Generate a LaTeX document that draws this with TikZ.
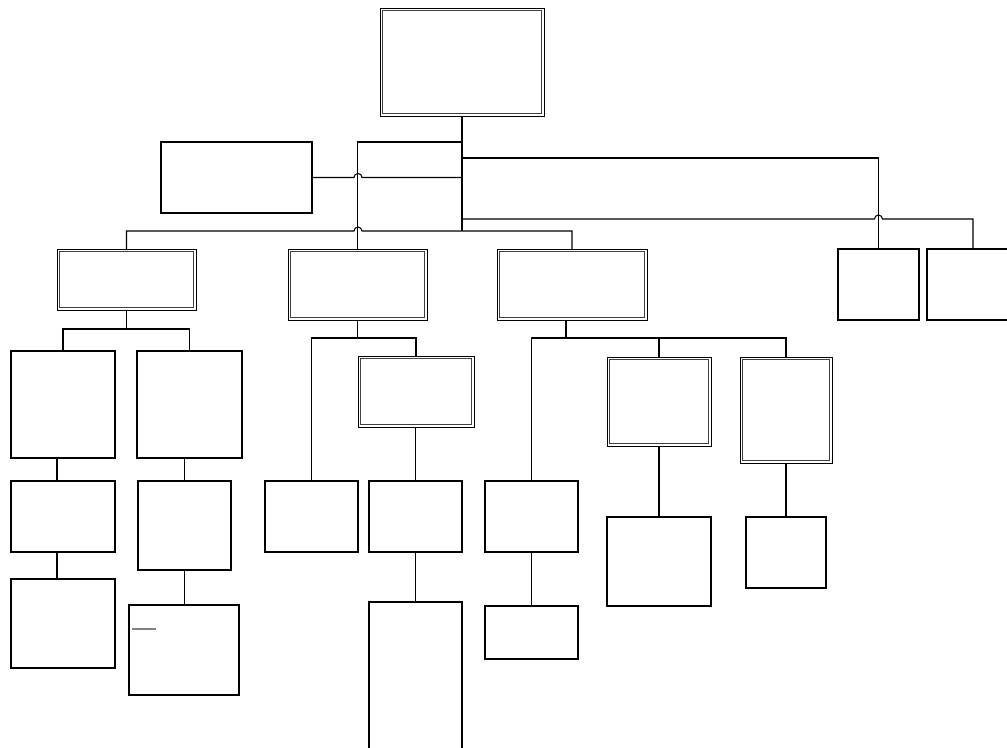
\documentclass[tikz,border=0pt]{standalone}
\usepackage{tikz}
\usetikzlibrary{positioning}
\tikzset{
  unit/.style   = {draw, fill=white, inner sep=0pt, outer sep=0pt, line width=0.6pt},
  dunit/.style  = {unit, line width=0.5pt},
  rim/.style    = {line width=0.7pt, draw=black!75},
  link/.style   = {line width=0.6pt},
  spine/.style  = {line width=0.9pt}
}
\begin{document}
\begin{tikzpicture}[x=0.02cm, y=-0.02cm]
  \clip (0,0) rectangle (1007,747);
  % head and staff
  \node[dunit, minimum width=3.28cm, minimum height=2.16cm] (chief)   at (462,62)      {};
  \node[unit,  minimum width=3.02cm, minimum height=1.42cm] (advisor) at (236.5,177.5) {};
  % second level
  \node[dunit, minimum width=2.78cm, minimum height=1.22cm] (divA) at (126.5,279.5) {};
  \node[dunit, minimum width=2.78cm, minimum height=1.42cm] (divB) at (357.5,284.5) {};
  \node[dunit, minimum width=3.00cm, minimum height=1.42cm] (divC) at (572,284.5)   {};
  \node[unit,  minimum width=1.62cm, minimum height=1.42cm] (divD) at (878.5,284.5) {};
  \node[unit,  minimum width=1.84cm, minimum height=1.42cm] (divE) at (973,284.5)   {};
  % under A
  \node[unit, minimum width=2.08cm, minimum height=2.14cm] (secA1)  at (63,404.5)    {};
  \node[unit, minimum width=2.10cm, minimum height=2.14cm] (secA2)  at (189.5,404.5) {};
  \node[unit, minimum width=2.08cm, minimum height=1.42cm] (secA1a) at (63,516.5)    {};
  \node[unit, minimum width=2.08cm, minimum height=1.78cm] (secA1b) at (63,623.5)    {};
  \node[unit, minimum width=1.86cm, minimum height=1.78cm] (secA2a) at (184.5,525.5) {};
  \node[unit, minimum width=2.20cm, minimum height=1.80cm] (secA2b) at (184,650)     {};
  % under B
  \node[unit,  minimum width=1.86cm, minimum height=1.42cm] (secB1)  at (311.5,516.5) {};
  \node[dunit, minimum width=2.32cm, minimum height=1.42cm] (secB2)  at (416,391.5)   {};
  \node[unit,  minimum width=1.86cm, minimum height=1.42cm] (secB2a) at (415.5,516.5) {};
  \node[unit,  minimum width=1.86cm, minimum height=3.20cm] (secB2b) at (415.5,682)   {};
  % under C
  \node[unit,  minimum width=1.86cm, minimum height=1.42cm] (secC1)  at (531.5,516.5) {};
  \node[unit,  minimum width=1.86cm, minimum height=1.06cm] (secC1a) at (531.5,632.5) {};
  \node[dunit, minimum width=2.08cm, minimum height=1.78cm] (secC2)  at (659,401.5)   {};
  \node[unit,  minimum width=2.08cm, minimum height=1.78cm] (secC2a) at (659,561.5)   {};
  \node[dunit, minimum width=1.84cm, minimum height=2.12cm] (secC3)  at (786,410)     {};
  \node[unit,  minimum width=1.60cm, minimum height=1.42cm] (secC3a) at (786,552.5)   {};
  \draw[gray, line width=0.8pt] (132,629) -- (156,629);

  % inner rim of the double boxes
  \foreach \n in {chief, divA, divB, divC, secB2, secC2, secC3}
    \draw[rim] ([shift={(2.5,-2.5)}]\n.south west) rectangle ([shift={(-2.5,2.5)}]\n.north east);

  % bus points
  \coordinate (busTop) at (462,231);
  \coordinate (busA)   at (126.5,329);
  \coordinate (busB)   at (357.5,338);
  \coordinate (busC)   at (566,338);
  \coordinate (colA1)  at (57,0);
  \coordinate (colA2)  at (184.5,0);

  % top level links
  \draw[spine] (chief.south) -- (busTop);
  \draw[link] (chief.south |- 0,142) -| (divB.north);
  \draw[link] (advisor.east) -- (354,177.5)
    arc[start angle=180, end angle=0, radius=0.08cm] -- (chief.south |- advisor.east);
  \draw[link] (divA.north) |- (354,231)
    arc[start angle=180, end angle=0, radius=0.08cm] -| (divC.north);
  \draw[link] (chief.south |- 0,158) -| (divD.north);
  \draw[link] (chief.south |- 0,219) -- (874.5,219)
    arc[start angle=180, end angle=0, radius=0.08cm] -| (divE.north);

  % A branch
  \draw[link] (divA.south) -- (busA);
  \draw[link] (secA1.north) |- (busA) -| (secA2.north);
  \draw[link] (secA1.south -| colA1) -- (secA1a.north -| colA1);
  \draw[link] (secA1a.south -| colA1) -- (secA1b.north -| colA1);
  \draw[link] (secA2.south -| colA2) -- (secA2a.north);
  \draw[link] (secA2a.south) -- (secA2b.north -| colA2);

  % B branch
  \draw[link] (divB.south) -- (busB);
  \draw[link] (secB1.north) |- (busB) -| (secB2.north);
  \draw[link] (secB2.south -| secB2a.north) -- (secB2a.north);
  \draw[link] (secB2a.south) -- (secB2b.north);

  % C branch
  \draw[link] (divC.south -| busC) -- (busC);
  \draw[link] (secC1.north) |- (busC) -| (secC3.north);
  \draw[link] (secC2.north |- busC) -- (secC2.north);
  \draw[link] (secC1.south) -- (secC1a.north);
  \draw[link] (secC2.south) -- (secC2a.north);
  \draw[link] (secC3.south) -- (secC3a.north);
\end{tikzpicture}
\end{document}
